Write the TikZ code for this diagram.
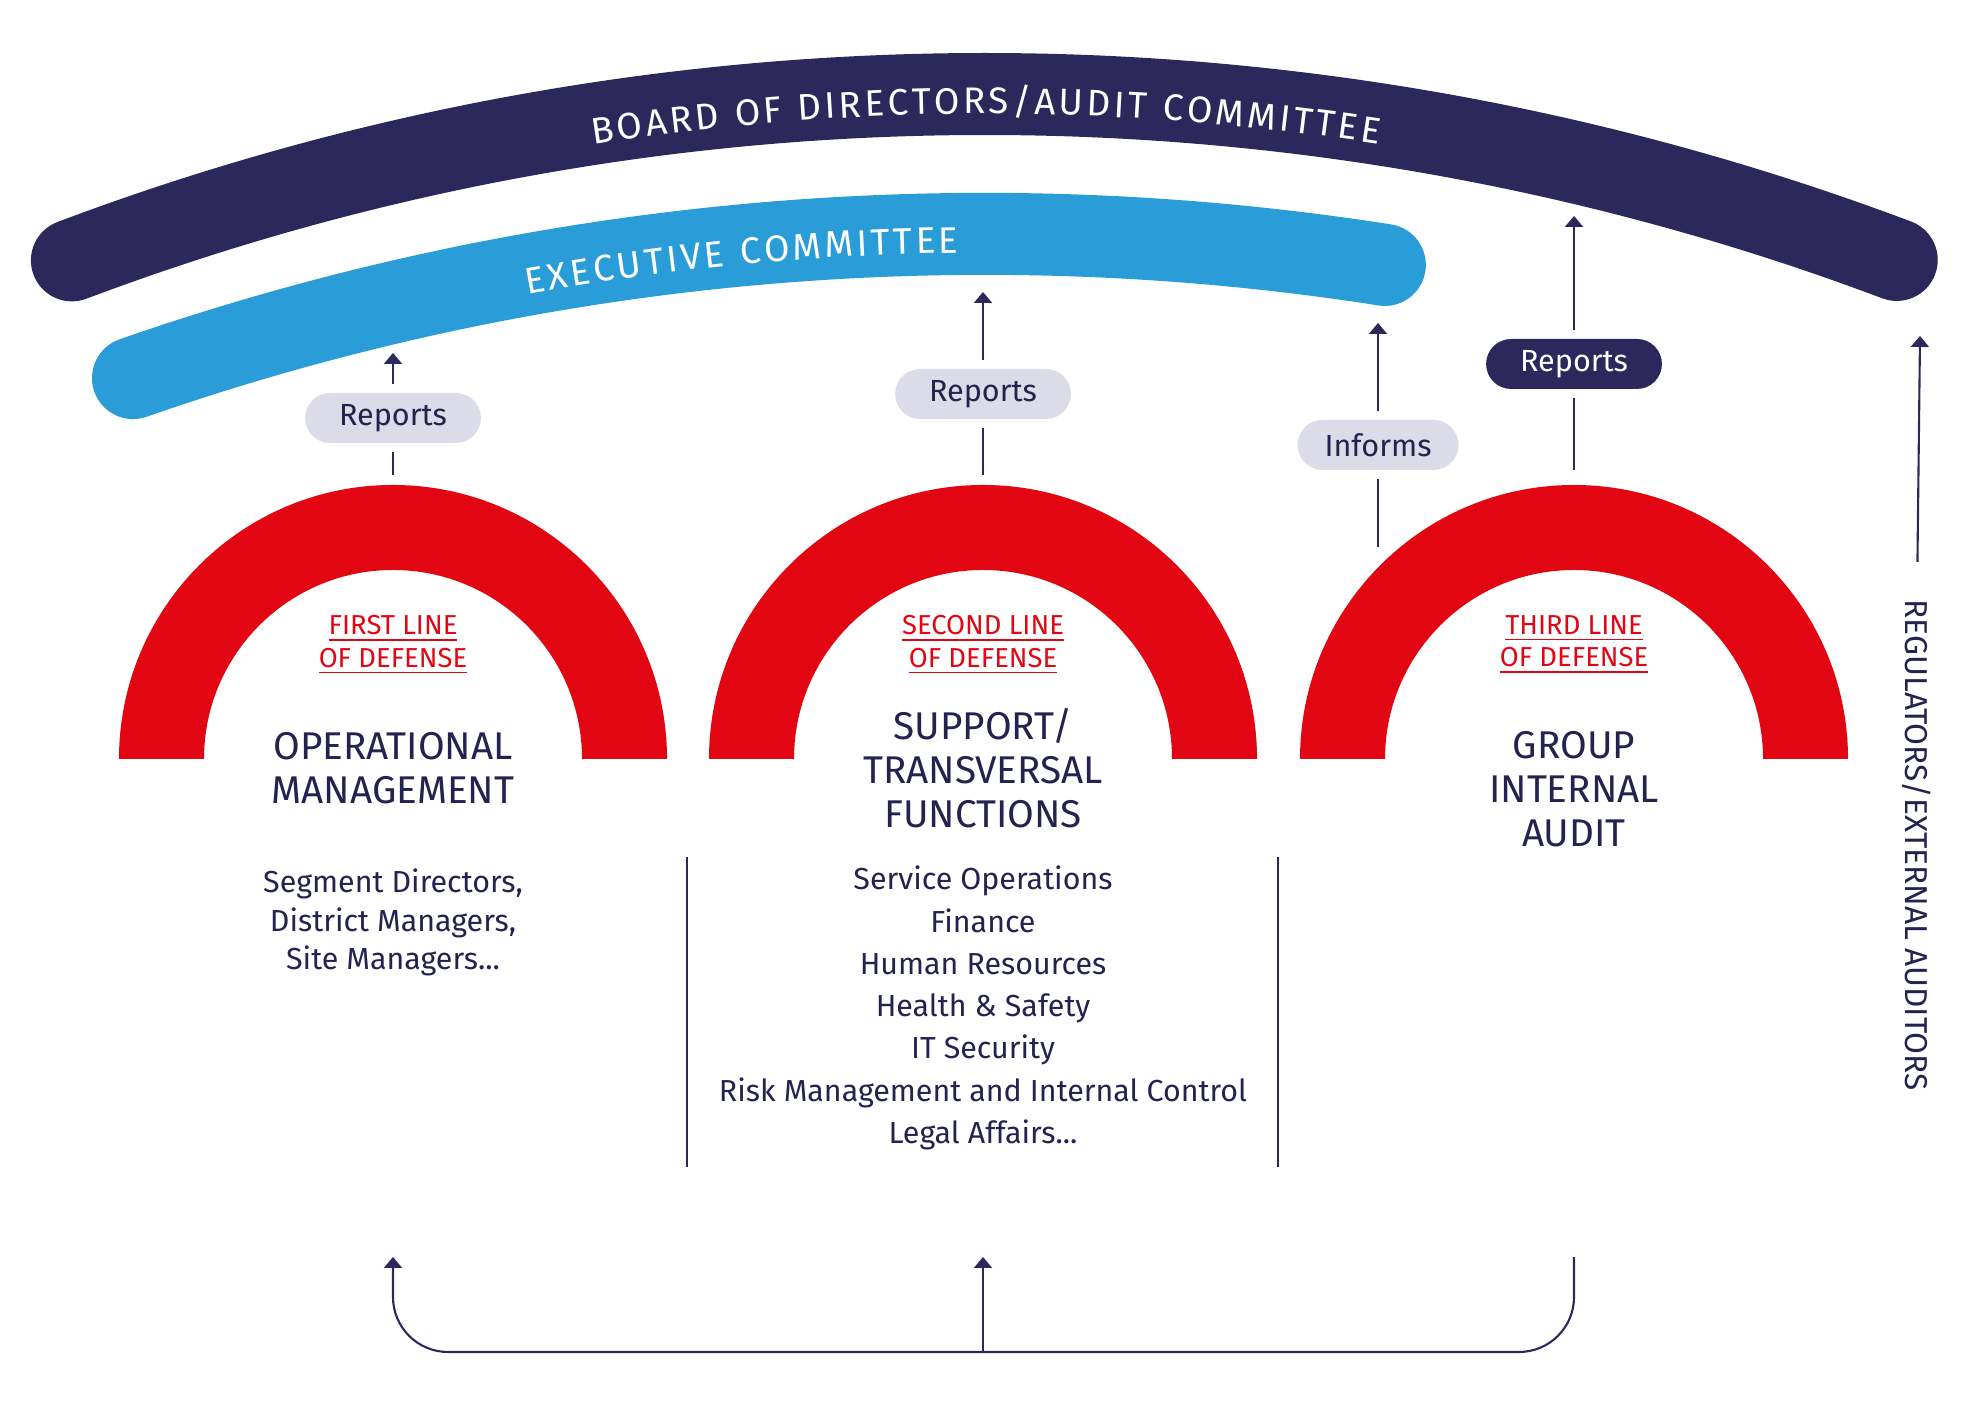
\documentclass[tikz,border=0pt]{standalone}
\usepackage{fontspec}
\setmainfont{Fira Sans}
\usepackage{xcolor}
\usetikzlibrary{arrows.meta,decorations.text}
\definecolor{ldnavy}{RGB}{45,40,92}
\definecolor{ldink}{RGB}{36,34,78}
\definecolor{ldblue}{RGB}{42,157,216}
\definecolor{ldred}{RGB}{226,6,19}
\definecolor{ldpale}{RGB}{220,220,232}
\newcommand\ldbandfont{\fontsize{10.5}{12}\selectfont}
\tikzset{
  ldband/.style={line width=0.82cm, line cap=round},
  ldbandtext/.style={decoration={text effects along path, text={#1},
    text effects/.cd, text along path,
    characters={text=white, font=\ldbandfont, inner xsep=0.45pt},
    character widths={font=\ldbandfont, inner xsep=0.45pt}}, decorate},
  ldring/.style={fill=ldred},
  ldpill/.style={rounded corners=0.25cm, minimum height=0.50cm, inner xsep=0.34cm, inner ysep=0pt, outer sep=0.09cm, font=\fontsize{8.7}{10}\selectfont},
  ldgrey/.style={ldpill, fill=ldpale, text=ldink},
  lddark/.style={ldpill, fill=ldnavy, text=white},
  ldline/.style={line width=0.6pt, draw=ldnavy},
  ldarrow/.style={ldline, -{Triangle[length=0.11cm, width=0.18cm]}},
  ldlevel/.style={text=ldred, align=center, inner sep=0pt, font=\fontsize{7.8}{9.2}\selectfont},
  ldtitle/.style={text=ldink, align=center, inner sep=0pt, font=\fontsize{11}{12.5}\selectfont},
  ldlist/.style={text=ldink, align=center, inner sep=0pt, font=\fontsize{8.7}{11}\selectfont},
}

\begin{document}
\begin{tikzpicture}
\useasboundingbox (0,0) rectangle (19.670,14.040);
\draw[ldband, draw=ldnavy] (0.719,11.436) arc[start angle=110.66, end angle=69.37, radius=25.88];
\draw[ldband, draw=ldblue] (1.330,10.259) arc[start angle=109.22, end angle=81.11, radius=25.88];
\path[ldbandtext={BOARD OF DIRECTORS/AUDIT COMMITTEE}, decoration={text align=center}] (0.791,11.248) arc[start angle=110.66, end angle=69.37, radius=25.71];
\path[ldbandtext={EXECUTIVE COMMITTEE}, decoration={text align=left}] (5.257,11.096) arc[start angle=100.3, end angle=80, radius=25.69];

\fill[ldring] (1.190,6.450) arc[start angle=180, end angle=0, radius=2.74] -- (5.820,6.450) arc[start angle=0, end angle=180, radius=1.89] -- cycle;
\fill[ldring] (7.090,6.450) arc[start angle=180, end angle=0, radius=2.74] -- (11.720,6.450) arc[start angle=0, end angle=180, radius=1.89] -- cycle;
\fill[ldring] (13.000,6.450) arc[start angle=180, end angle=0, radius=2.74] -- (17.630,6.450) arc[start angle=0, end angle=180, radius=1.89] -- cycle;

\node[ldlevel] (lvl1) at (3.930,7.590) {\underline{FIRST LINE}\\\underline{OF DEFENSE}};
\node[ldlevel] (lvl2) at (9.830,7.590) {\underline{SECOND LINE}\\\underline{OF DEFENSE}};
\node[ldlevel] (lvl3) at (15.740,7.590) {\underline{THIRD LINE}\\\underline{OF DEFENSE}};

\node[ldtitle] (opman) at (3.930,6.355) {OPERATIONAL\\MANAGEMENT};
\node[ldtitle] (supfn) at (9.830,6.355) {SUPPORT/\\TRANSVERSAL\\FUNCTIONS};
\node[ldtitle] (grpia) at (15.740,6.145) {GROUP\\INTERNAL\\AUDIT};

\node[ldlist, font=\fontsize{8.65}{10.95}\selectfont] (list1) at (3.930,4.815) {Segment Directors,\\District Managers,\\Site Managers...};
\node[ldlist, font=\fontsize{8.65}{12.03}\selectfont] (list2) at (9.830,3.960) {Service Operations\\Finance\\Human Resources\\Health \& Safety\\IT Security\\Risk Management and Internal Control\\Legal Affairs...};

\draw[ldline] (6.870,5.470) -- (6.870,2.370);
\draw[ldline] (12.780,5.470) -- (12.780,2.370);

\coordinate (top1) at (3.930,9.290);
\coordinate (top2) at (9.830,9.290);
\coordinate (top3) at (15.740,9.340);
\coordinate (side3) at (13.780,8.570);
\coordinate (exec1) at (3.930,10.510);
\coordinate (exec2) at (9.830,11.120);
\coordinate (exec3) at (13.780,10.810);
\coordinate (board3) at (15.740,11.880);
\coordinate (board4) at (19.200,10.680);

\node[ldgrey] (rep1) at (3.930,9.860) {Reports};
\node[ldgrey] (rep2) at (9.830,10.100) {Reports};
\node[ldgrey, inner xsep=0.27cm] (inf) at (13.780,9.590) {Informs};
\node[lddark] (rep3) at (15.740,10.400) {Reports};

\draw[ldline] (top1) -- (rep1);
\draw[ldarrow] (rep1) -- (exec1);
\draw[ldline] (top2) -- (rep2);
\draw[ldarrow] (rep2) -- (exec2);
\draw[ldline] (side3) -- (inf);
\draw[ldarrow] (inf) -- (exec3);
\draw[ldline] (top3) -- (rep3);
\draw[ldarrow] (rep3) -- (board3);

\node[text=ldink, rotate=-90, inner sep=0pt, font=\fontsize{9}{11}\selectfont] (reg) at (19.170,5.590) {REGULATORS/EXTERNAL AUDITORS};
\draw[ldarrow, shorten <=0.37cm] (reg.west) -- (board4);

\coordinate (foot1) at (3.930,1.470);
\coordinate (foot2) at (9.830,1.470);
\coordinate (foot3) at (15.740,1.470);
\coordinate (base) at (9.830,0.520);
\draw[ldarrow, rounded corners=0.55cm] (foot3) |- (base) -| (foot1);
\draw[ldarrow] (base) -- (foot2);
\end{tikzpicture}
\end{document}
